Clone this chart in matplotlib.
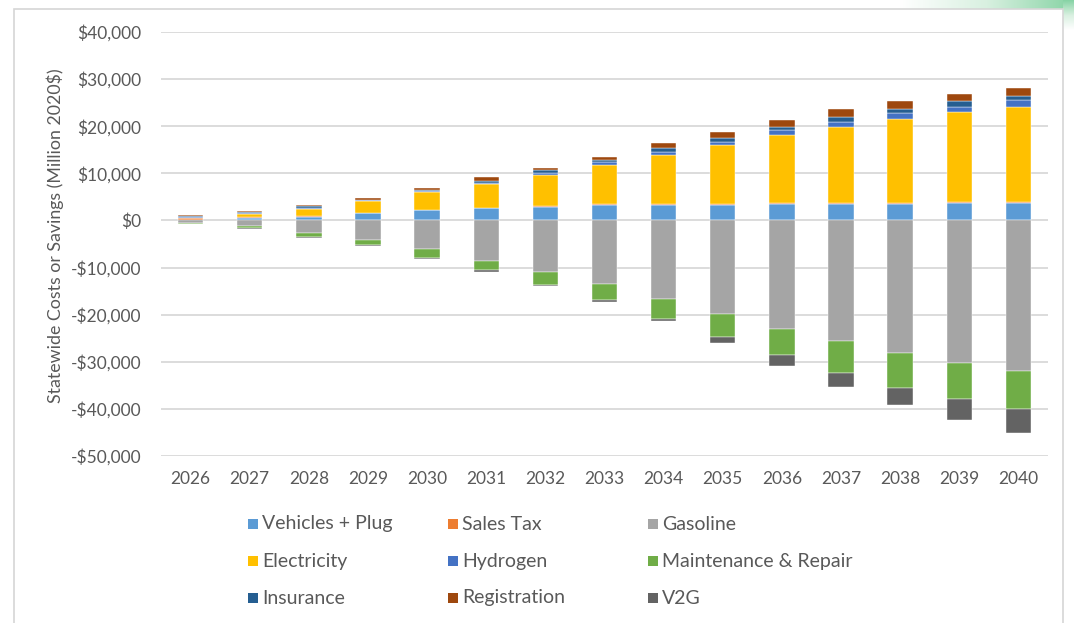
import numpy as np
import matplotlib
matplotlib.use("Agg")
import matplotlib.pyplot as plt
from matplotlib.patches import Rectangle
from matplotlib.ticker import FuncFormatter
from matplotlib.colors import LinearSegmentedColormap

# ---- data (million 2020$) ----
years = ["2026", "2027", "2028", "2029", "2030", "2031", "2032", "2033",
         "2034", "2035", "2036", "2037", "2038", "2039", "2040"]

vehicles_plug = [200, 500, 800, 1500, 2150, 2550, 2950, 3300, 3300, 3300, 3500, 3500, 3500, 3650, 3650]
sales_tax = [250, 250, 200, 100, 100, 100, 200, 200, 200, 200, 100, 100, 100, 200, 200]
gasoline = [-450, -1200, -2600, -4150, -6150, -8600, -10950, -13550, -16750, -19850,
            -23000, -25650, -28150, -30300, -32050]
electricity = [100, 700, 1400, 2550, 3850, 5100, 6550, 8350, 10400, 12450,
               14500, 16300, 18000, 19150, 20200]
hydrogen = [100, 150, 250, 100, 200, 300, 400, 500, 700, 750, 1050, 1050, 1150, 1050, 1450]
maintenance = [-250, -400, -850, -1000, -1800, -2000, -2850, -3400, -4100, -4900,
               -5550, -6750, -7400, -7650, -7950]
insurance = [350, 250, 350, 150, 200, 400, 700, 550, 700, 900, 700, 1000, 1000, 1250, 850]
registration = [250, 200, 250, 300, 300, 700, 400, 650, 1050, 1150, 1400, 1750, 1700, 1500, 1750]
v2g = [-150, -200, -250, -250, -300, -350, -200, -350, -550, -1300, -2400, -3000, -3600, -4400, -5100]

series_names = ["Vehicles + Plug", "Sales Tax", "Gasoline", "Electricity", "Hydrogen",
                "Maintenance & Repair", "Insurance", "Registration", "V2G"]
series_values = [vehicles_plug, sales_tax, gasoline, electricity, hydrogen,
                 maintenance, insurance, registration, v2g]
series_colors = ["#5B9BD5", "#ED7D31", "#A5A5A5", "#FFC000", "#4472C4",
                 "#70AD47", "#255E91", "#9E480E", "#636363"]

TEXT = "#595959"
FONT = "Lato"
plt.rcParams["font.family"] = [FONT, "DejaVu Sans"]

W, H = 1074, 623
fig = plt.figure(figsize=(W / 100, H / 100), dpi=100)
fig.patch.set_facecolor("white")

# decorative green corner behind the card
grad = np.linspace(0, 1, 256).reshape(1, -1)
gcmap = LinearSegmentedColormap.from_list("g", ["#ffffff", "#d8f0e0", "#86d3a4"])
gax = fig.add_axes([900 / W, 1 - 12 / H, 174 / W, 12 / H], zorder=0)
gax.imshow(grad, aspect="auto", cmap=gcmap, extent=[0, 1, 0, 1])
gax.axis("off")
sax = fig.add_axes([1063 / W, 1 - 30 / H, 11 / W, 30 / H], zorder=0)
sax.imshow(np.linspace(1, 0, 64).reshape(-1, 1), aspect="auto", cmap=gcmap, extent=[0, 1, 0, 1])
sax.axis("off")

# card outline
card = Rectangle((14 / W, -0.05), (1063 - 14) / W, 1.05 - 9 / H,
                 transform=fig.transFigure, facecolor="white", edgecolor="#d6d6d6",
                 linewidth=1.2, zorder=1)
fig.patches.append(card)

ax = fig.add_axes([161 / W, 1 - 456 / H, (1048 - 161) / W, (456 - 32) / H], zorder=2)
ax.set_facecolor("none")

x = np.arange(len(years))
pos_base = np.zeros(len(years))
neg_base = np.zeros(len(years))
for vals, color in zip(series_values, series_colors):
    v = np.array(vals, dtype=float)
    pos = np.where(v > 0, v, 0)
    neg = np.where(v < 0, v, 0)
    if pos.any():
        ax.bar(x, pos, bottom=pos_base, width=0.43, color=color,
               edgecolor="white", linewidth=0.3, zorder=3)
        pos_base += pos
    if neg.any():
        ax.bar(x, neg, bottom=neg_base, width=0.43, color=color,
               edgecolor="white", linewidth=0.3, zorder=3)
        neg_base += neg

ax.set_xlim(-0.5, len(years) - 0.5)
ax.set_ylim(-50000, 40000)
ax.set_yticks(np.arange(-50000, 40001, 10000))
ax.yaxis.set_major_formatter(FuncFormatter(
    lambda v, _: ("-$" if v < 0 else "$") + f"{abs(int(v)):,}"))
ax.set_xticks(x)
ax.set_xticklabels(years)
ax.grid(axis="y", color="#d9d9d9", linewidth=1.3, zorder=0)
ax.set_axisbelow(True)
for s in ax.spines.values():
    s.set_visible(False)
ax.tick_params(axis="y", length=0, pad=14, labelsize=12.5, labelcolor=TEXT)
ax.tick_params(axis="x", length=0, pad=11, labelsize=12.5, labelcolor=TEXT)

fig.text(55 / W, 1 - 236 / H, "Statewide Costs or Savings (Million 2020$)",
         rotation=90, ha="center", va="center", fontsize=12.8, color=TEXT, zorder=3)

# legend: three rows, three evenly spaced columns
col_x = [248, 448, 648]
row_y = [524, 561, 598]
for i, (name, color) in enumerate(zip(series_names, series_colors)):
    r, c = divmod(i, 3)
    mx, my = col_x[c], row_y[r]
    fig.patches.append(Rectangle((mx / W, (H - my - 5) / H), 10 / W, 10 / H,
                                 transform=fig.transFigure, facecolor=color,
                                 edgecolor="none", zorder=3))
    fig.text((mx + 14) / W, 1 - my / H, name, ha="left", va="center",
             fontsize=14, color=TEXT, zorder=3)

fig.savefig("out.png", dpi=100, facecolor="white")
